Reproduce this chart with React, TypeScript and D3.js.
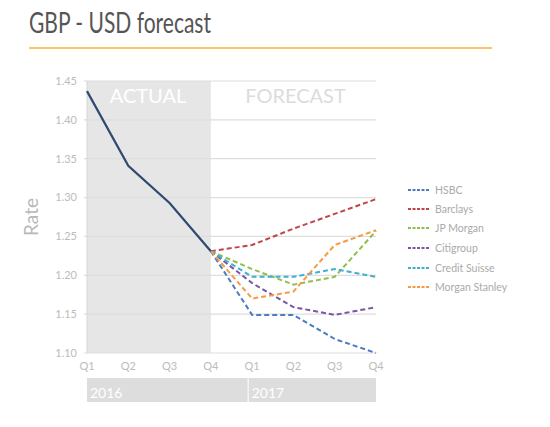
import React from "react";
import * as d3 from "d3";

const quarters = ["Q1", "Q2", "Q3", "Q4", "Q1", "Q2", "Q3", "Q4"];
const years = ["2016", "2017"];
const yTicks = [1.1, 1.15, 1.2, 1.25, 1.3, 1.35, 1.4, 1.45];
const actual = [1.437, 1.341, 1.293, 1.231];
const forecastNames = ["HSBC", "Barclays", "JP Morgan", "Citigroup", "Credit Suisse", "Morgan Stanley"];
const forecastColors = ["#4a7cc4", "#c0444a", "#8fbf4a", "#7a55a6", "#3fb0cf", "#f69a43"];
const hsbc = [1.231, 1.149, 1.149, 1.118, 1.1];
const barclays = [1.231, 1.239, 1.26, 1.279, 1.298];
const jpMorgan = [1.231, 1.208, 1.188, 1.198, 1.257];
const citigroup = [1.231, 1.19, 1.159, 1.149, 1.159];
const creditSuisse = [1.231, 1.198, 1.198, 1.208, 1.198];
const morganStanley = [1.231, 1.17, 1.179, 1.239, 1.258];
const forecasts = [hsbc, barclays, jpMorgan, citigroup, creditSuisse, morganStanley];

export default function App() {
  const W = 550, H = 427;
  const x = d3.scaleLinear().domain([0, 7]).range([87, 376]);
  const y = d3.scaleLinear().domain([1.1, 1.45]).range([353, 81]);
  const line = d3.line<number>().x((_, i) => x(i)).y((d) => y(d));
  const fline = d3.line<number>().x((_, i) => x(i + 3)).y((d) => y(d));
  const font = "Lato, 'Open Sans', sans-serif";
  const split = x(4) - 4;
  const bands = [
    { x0: x(0), x1: split - 0.5 },
    { x0: split + 0.5, x1: x(7) },
  ];
  return (
    <svg width={W} height={H} style={{ position: "absolute", left: 0, top: 0 }}>
      <rect width={W} height={H} fill="#fff" />
      <text x={29} y={33} fontFamily="Lato, sans-serif" fontSize={28} fill="#555" textLength={182} lengthAdjust="spacingAndGlyphs">
        GBP - USD forecast
      </text>
      <line x1={29} x2={492} y1={48} y2={48} stroke="#f9b233" strokeWidth={1.5} />
      <rect x={x(0)} y={y(1.45)} width={x(3) - x(0)} height={y(1.1) - y(1.45)} fill="#e6e6e6" />
      {yTicks.map((t) => (
        <g key={t}>
          <line x1={84} x2={x(7)} y1={y(t)} y2={y(t)} stroke="#dedede" strokeWidth={1.2} />
          <text x={77} y={y(t)} dy="0.35em" textAnchor="end" fontFamily={font} fontSize={11} fill="#bcbcbc">
            {t.toFixed(2)}
          </text>
        </g>
      ))}
      <line x1={87} x2={87} y1={y(1.45)} y2={y(1.1)} stroke="#d6d6d6" strokeWidth={1} />
      <text x={148} y={103} textAnchor="middle" fontFamily={font} fontSize={20} fill="#fff">ACTUAL</text>
      <text x={295.5} y={103} textAnchor="middle" fontFamily={font} fontSize={20} fill="#dcdcdc">FORECAST</text>
      <text transform={`translate(38,217) rotate(-90)`} textAnchor="middle" fontFamily={font} fontSize={19} fill="#b8b8b8">Rate</text>
      {quarters.map((q, i) => (
        <text key={i} x={x(i)} y={366} dy="0.35em" textAnchor="middle" fontFamily={font} fontSize={11} fill="#bcbcbc">{q}</text>
      ))}
      {years.map((yr, i) => (
        <g key={yr}>
          <rect x={bands[i].x0} y={378} width={bands[i].x1 - bands[i].x0} height={24} fill="#dddddd" />
          <text x={bands[i].x0 + 3} y={398} fontFamily={font} fontSize={14} fill="#fff">{yr}</text>
        </g>
      ))}
      {forecasts.map((f, i) => (
        <path key={i} d={fline(f) || ""} fill="none" stroke={forecastColors[i]} strokeWidth={2} strokeDasharray="5,3" />
      ))}
      <path d={line(actual) || ""} fill="none" stroke="#2e4a6e" strokeWidth={2.2} />
      {forecastNames.map((n, i) => {
        const ly = [190, 209, 228, 248, 268, 287][i];
        return (
          <g key={n}>
            <line x1={408} x2={430} y1={ly} y2={ly} stroke={forecastColors[i]} strokeWidth={1.8} strokeDasharray="3,1.5" />
            <text x={435} y={ly} dy="0.35em" fontFamily={font} fontSize={10.5} fill="#aaa">{n}</text>
          </g>
        );
      })}
    </svg>
  );
}
